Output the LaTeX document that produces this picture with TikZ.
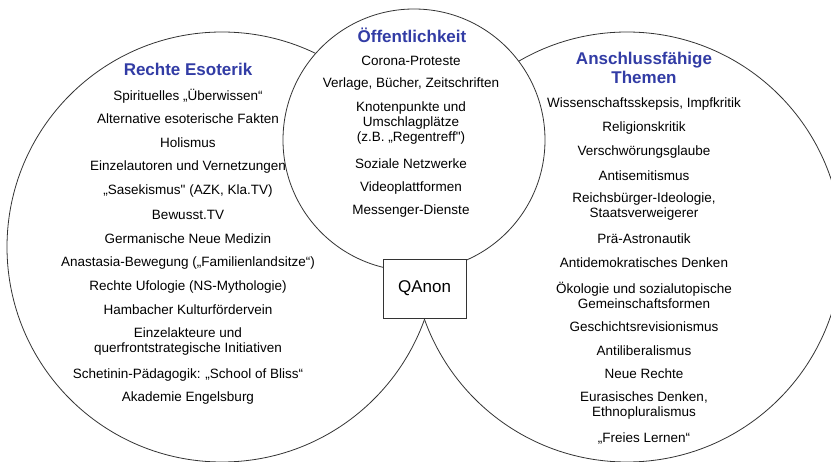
\documentclass[tikz,border=0pt]{standalone}
\usepackage{fontspec}
\setmainfont{Liberation Sans}
\usepackage{tikz}
\usetikzlibrary{positioning}
\definecolor{titelblau}{RGB}{50,60,165}

\begin{document}
\begin{tikzpicture}[x=1pt,y=-1pt,
		kreis/.style={draw=black!80,line width=0.8pt,fill=white},
		eintrag/.style={align=center,inner sep=0pt,font=\fontsize{13.5}{15}\selectfont},
		titel/.style={align=center,inner sep=0pt,text=titelblau,font=\fontsize{17}{19.5}\selectfont\bfseries}]
		%\draw[help lines] (0,0) grid[step=50] (831,462);
		\clip (0,0) rectangle (831,462);
		\fill[white] (0,0) rectangle (831,462);
		% Kreise, der mittlere liegt oben
		\draw[kreis] (222,247) circle (215pt);
		\draw[kreis] (627,247) circle (215pt);
		\draw[kreis] (414,140) circle (131pt);
		\node[draw=black!80,line width=0.8pt,fill=white,minimum width=83pt,minimum height=59pt,
			font=\fontsize{17}{19}\selectfont] (qanon) at (424.5,288.5) {QAnon};
		% Rechte Esoterik
		\node[titel] (esoterik) at (188,69) {Rechte Esoterik};
		\node[eintrag] (e1) at (188,96) {Spirituelles „Überwissen“};
		\node[eintrag] (e2) at (188,119) {Alternative esoterische Fakten};
		\node[eintrag] (e3) at (188,143) {Holismus};
		\node[eintrag] (e4) at (188,167) {Einzelautoren und Vernetzungen};
		\node[eintrag] (e5) at (188,191) {„Sasekismus\textquotedbl{} (AZK, Kla.TV)};
		\node[eintrag] (e6) at (188,215) {Bewusst.TV};
		\node[eintrag] (e7) at (188,239) {Germanische Neue Medizin};
		\node[eintrag] (e8) at (188,263) {Anastasia-Bewegung („Familienlandsitze“)};
		\node[eintrag] (e9) at (188,287) {Rechte Ufologie (NS-Mythologie)};
		\node[eintrag] (e10) at (188,310) {Hambacher Kulturfördervein};
		\node[eintrag] (e11) at (188,342) {Einzelakteure und\\querfrontstrategische Initiativen};
		\node[eintrag] (e12) at (188,375) {Schetinin-Pädagogik: „School of Bliss“};
		\node[eintrag] (e13) at (188,398) {Akademie Engelsburg};
		% Oeffentlichkeit
		\node[titel] (oeffentlich) at (412,35) {Öffentlichkeit};
		\node[eintrag] (o1) at (411,61) {Corona-Proteste};
		\node[eintrag] (o2) at (411,84) {Verlage, Bücher, Zeitschriften};
		\node[eintrag] (o3) at (411,123) {Knotenpunkte und\\Umschlagplätze\\(z.B. „Regentreff\textquotedbl)};
		\node[eintrag] (o4) at (411,164) {Soziale Netzwerke};
		\node[eintrag] (o5) at (411,188) {Videoplattformen};
		\node[eintrag] (o6) at (411,211) {Messenger-Dienste};
		% Anschlussfaehige Themen
		\node[titel] (themen) at (644,68) {Anschlussfähige\\Themen};
		\node[eintrag] (t1) at (644,104) {Wissenschaftsskepsis, Impfkritik};
		\node[eintrag] (t2) at (644,128) {Religionskritik};
		\node[eintrag] (t3) at (644,152) {Verschwörungsglaube};
		\node[eintrag] (t4) at (644,176) {Antisemitismus};
		\node[eintrag] (t5) at (644,207) {Reichsbürger-Ideologie,\\Staatsverweigerer};
		\node[eintrag] (t6) at (644,239) {Prä-Astronautik};
		\node[eintrag] (t7) at (644,263) {Antidemokratisches Denken};
		\node[eintrag] (t8) at (644,295) {Ökologie und sozialutopische\\Gemeinschaftsformen};
		\node[eintrag] (t9) at (644,327) {Geschichtsrevisionismus};
		\node[eintrag] (t10) at (644,351) {Antiliberalismus};
		\node[eintrag] (t11) at (644,374) {Neue Rechte};
		\node[eintrag] (t12) at (644,406) {Eurasisches Denken,\\Ethnopluralismus};
		\node[eintrag] (t13) at (644,438) {„Freies Lernen“};
	\end{tikzpicture}
\end{document}
